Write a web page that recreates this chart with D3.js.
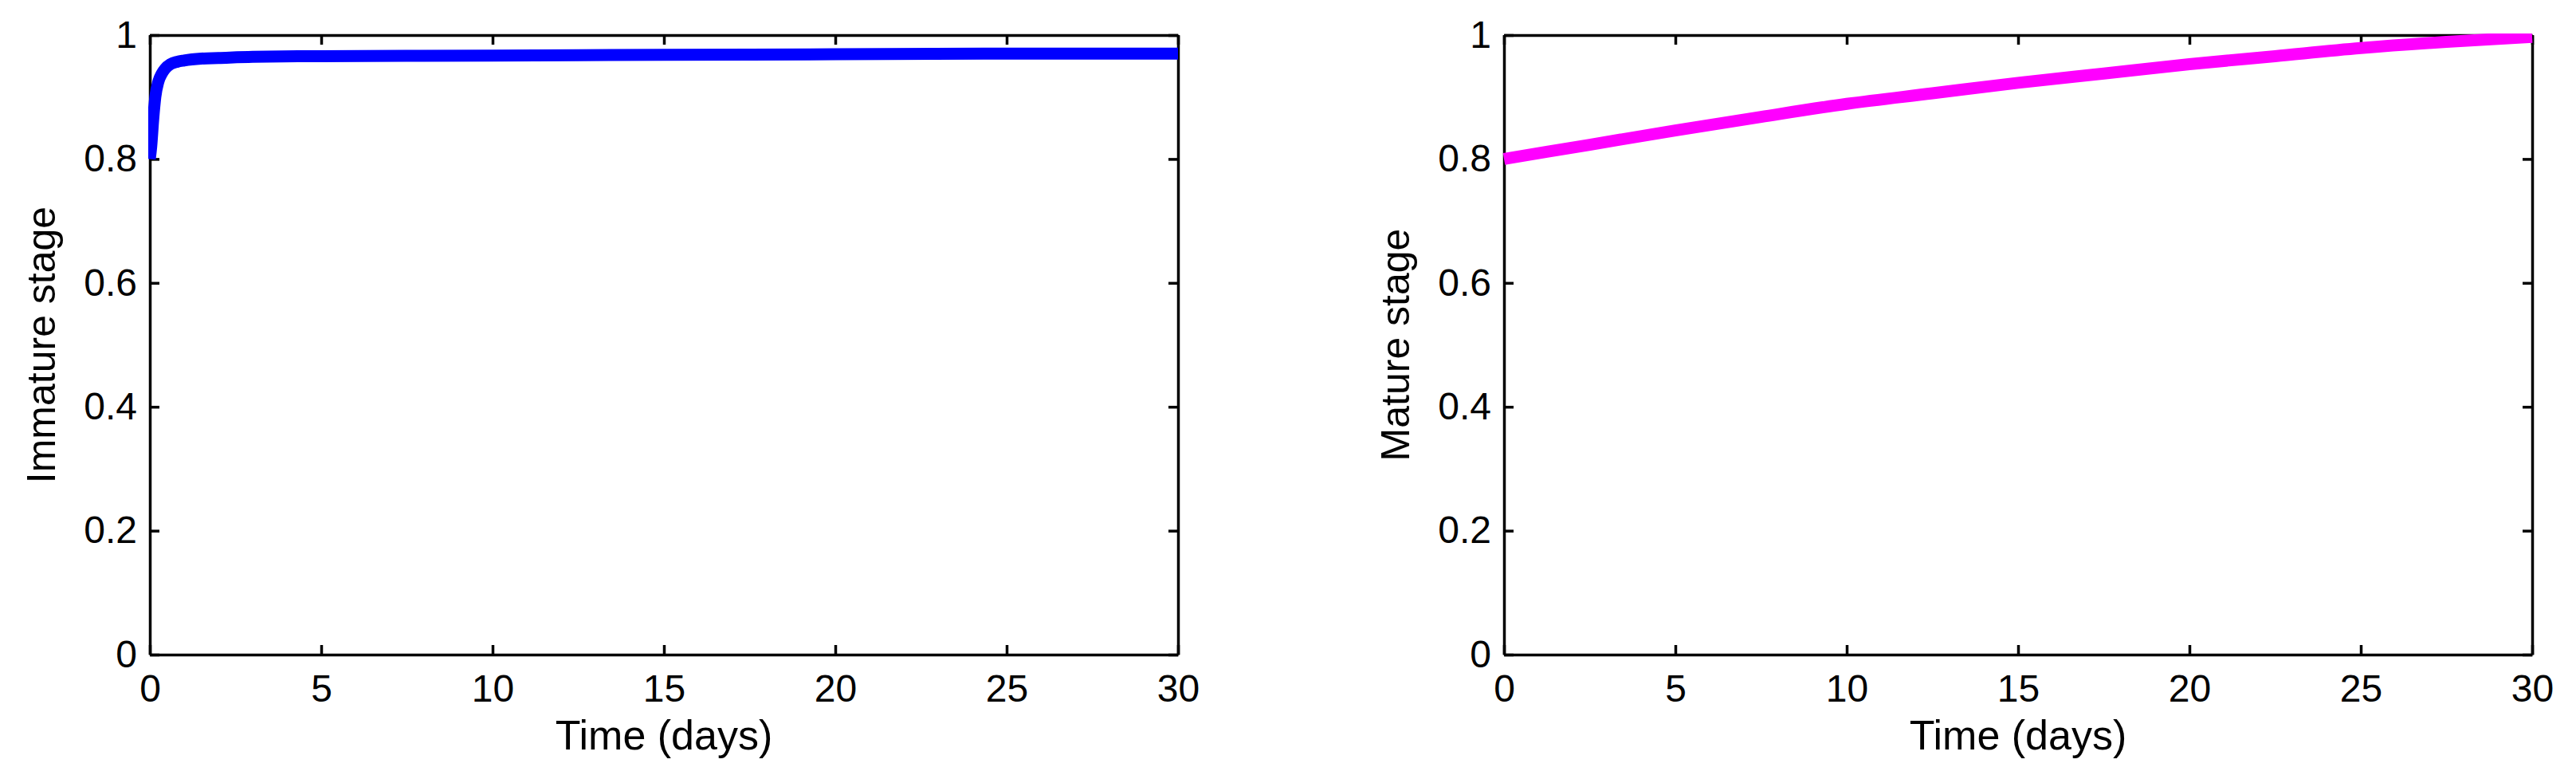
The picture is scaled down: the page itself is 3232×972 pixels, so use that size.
<!DOCTYPE html>
<html>
<head>
<meta charset="utf-8">
<script src="https://cdn.jsdelivr.net/npm/d3@7"></script>
<style>
  body { margin: 0; background: #fff; }
  text { font-family: "Liberation Sans", Arial, sans-serif; fill: #000; }
</style>
</head>
<body>
<script>
const width = 3232;
const height = 972;

// values
const xTicks = [0, 5, 10, 15, 20, 25, 30];
const yTicks = [0, 0.2, 0.4, 0.6, 0.8, 1];
const yTickLabels = ["0", "0.2", "0.4", "0.6", "0.8", "1"];

const immatureTime = [0, 0.04, 0.1, 0.16, 0.25, 0.35, 0.45, 0.6, 0.8, 1, 1.5, 2, 3, 5, 10, 15, 20, 25, 30];
const immatureVal = [0.800, 0.820, 0.865, 0.900, 0.925, 0.938, 0.946, 0.953, 0.957, 0.959, 0.962, 0.963, 0.965, 0.966, 0.967, 0.968, 0.969, 0.970, 0.970];

const matureTime = [0, 2.5, 5, 7.5, 10, 12.5, 15, 17.5, 20, 22.5, 25, 27.5, 30];
const matureVal = [0.800, 0.823, 0.846, 0.868, 0.889, 0.906, 0.923, 0.938, 0.953, 0.966, 0.979, 0.989, 0.997];

const panels = [
    { left: 188, label: "Immature stage", color: "#0000ff", t: immatureTime, v: immatureVal },
    { left: 1887, label: "Mature stage", color: "#ff00ff", t: matureTime, v: matureVal }
];
const plotW = 1290;
const plotTop = 44;
const plotH = 777;

let svg = d3.select("body").append("svg")
    .attr("width", width)
    .attr("height", height)

svg.append("rect")
    .attr("width", width)
    .attr("height", height)
    .attr("fill", "#fff")

panels.forEach(function (p, i) {
    let x = d3.scaleLinear().domain([0, 30]).range([0, plotW]);
    let y = d3.scaleLinear().domain([0, 1]).range([plotH, 0]);

    let g = svg.append("g")
        .attr("transform", "translate(" + p.left + "," + plotTop + ")")

    // box + inward ticks on all four sides, like matlab
    g.append("g")
        .attr("transform", "translate(0," + plotH + ")")
        .call(d3.axisBottom(x).tickValues(xTicks).tickSizeInner(-12).tickSizeOuter(0).tickPadding(25));
    g.append("g")
        .call(d3.axisLeft(y).tickValues(yTicks).tickFormat((d, j) => yTickLabels[j]).tickSizeInner(-12).tickSizeOuter(0).tickPadding(16));
    g.append("g")
        .call(d3.axisTop(x).tickValues(xTicks).tickFormat("").tickSizeInner(-12).tickSizeOuter(0));
    g.append("g")
        .attr("transform", "translate(" + plotW + ",0)")
        .call(d3.axisRight(y).tickValues(yTicks).tickFormat("").tickSizeInner(-12).tickSizeOuter(0));

    g.selectAll(".domain").attr("stroke", "#000").attr("stroke-width", 3.5);
    g.selectAll(".tick line").attr("stroke", "#000").attr("stroke-width", 3.5);
    g.selectAll(".tick text")
        .attr("font-size", 48)
        .attr("font-family", "Liberation Sans, Arial, sans-serif")
        .attr("fill", "#000");

    // curve is clipped to the box and sits over the axis lines
    g.append("clipPath")
        .attr("id", "clip" + i)
        .append("rect")
        .attr("x", -2)
        .attr("y", -2)
        .attr("width", plotW + 4)
        .attr("height", plotH + 4);

    let line = d3.line()
        .x((d, j) => x(p.t[j]))
        .y(d => y(d))
        .curve(d3.curveMonotoneX);

    g.append("path")
        .datum(p.v)
        .attr("clip-path", "url(#clip" + i + ")")
        .attr("fill", "none")
        .attr("stroke", p.color)
        .attr("stroke-width", 15)
        .attr("d", line);

    g.append("text")
        .attr("x", plotW / 2)
        .attr("y", plotH + 119)
        .attr("text-anchor", "middle")
        .attr("font-size", 52)
        .text("Time (days)");

    g.append("text")
        .attr("transform", "translate(-119," + plotH / 2 + ")rotate(-90)")
        .attr("text-anchor", "middle")
        .attr("font-size", 50)
        .text(p.label);
});
</script>
</body>
</html>
